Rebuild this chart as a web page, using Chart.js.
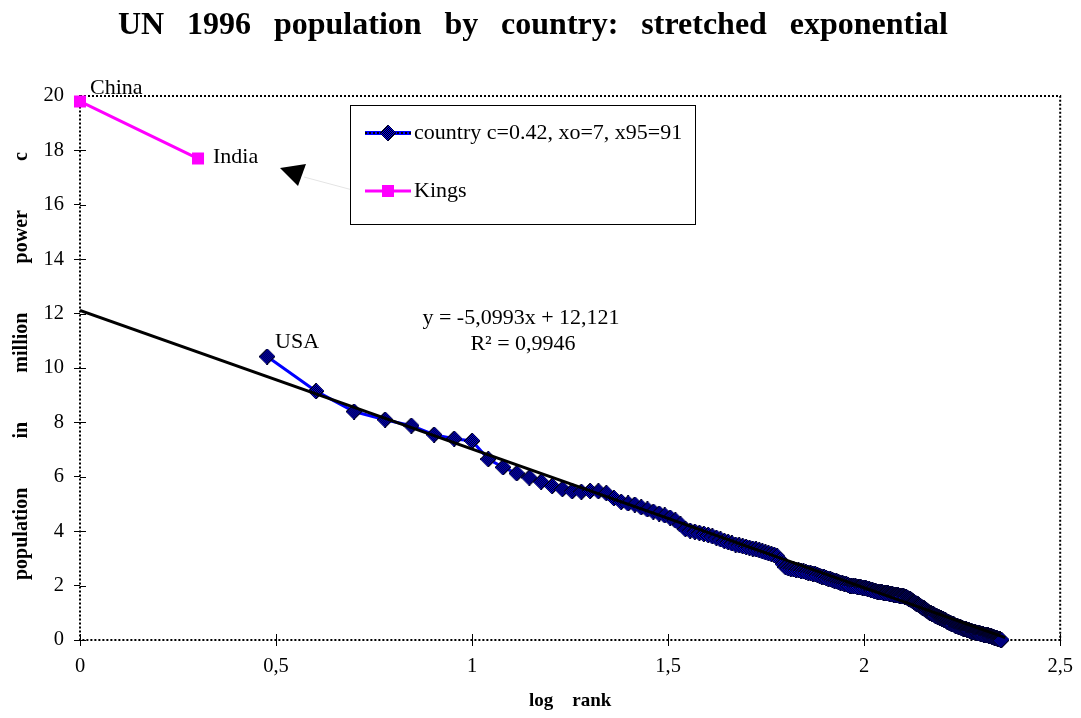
<!DOCTYPE html>
<html>
<head>
<meta charset="utf-8">
<title>UN 1996 population by country</title>
<script src="https://cdn.jsdelivr.net/npm/chart.js"></script>
<style>
  html, body { margin: 0; padding: 0; background: #fff; }
  #wrap { width: 1081px; height: 718px; }
</style>
</head>
<body>
<div id="wrap"><canvas id="chart" width="1081" height="718"></canvas></div>
<script>
// values (population in million, power c=0.42)
const firstRank = 3; // USA, China and India are in the Kings series
const countryValues = [
  10.42, 9.15, 8.40, 8.10, 7.88, 7.55, 7.40, 7.32, 6.65, 6.35, 6.13, 5.97, 5.82, 5.66,
  5.55, 5.47, 5.45, 5.48, 5.47, 5.40, 5.22, 5.08, 5.02, 4.98, 4.88, 4.80, 4.72, 4.65,
  4.58, 4.50, 4.40, 4.25, 4.08, 4.02, 3.98, 3.94, 3.90, 3.86, 3.81, 3.76, 3.70, 3.64,
  3.60, 3.55, 3.51, 3.48, 3.45, 3.42, 3.39, 3.36, 3.33, 3.30, 3.26, 3.22, 3.19, 3.16,
  3.13, 3.08, 2.95, 2.80, 2.68, 2.64,
  2.62, 2.60, 2.58, 2.56, 2.54, 2.52, 2.50, 2.48, 2.46, 2.44, 2.42, 2.39,
  2.36, 2.33, 2.31, 2.28, 2.26, 2.23, 2.21, 2.18, 2.16, 2.13, 2.11, 2.09, 2.07, 2.05, 2.02,
  2.00, 1.99, 1.98, 1.97, 1.96, 1.95, 1.94, 1.93, 1.92, 1.90, 1.88, 1.86, 1.84, 1.82, 1.80, 1.79, 1.78,
  1.77, 1.76, 1.75, 1.74, 1.73, 1.72, 1.71, 1.70, 1.69, 1.68, 1.67, 1.66, 1.65, 1.64, 1.63,
  1.62, 1.61, 1.60, 1.59, 1.57, 1.55,
  1.52, 1.49, 1.46, 1.43, 1.40, 1.37, 1.34, 1.31, 1.28, 1.25, 1.22, 1.19, 1.16, 1.13, 1.10, 1.06,
  1.03, 1.00, 0.98, 0.96, 0.94, 0.92, 0.90, 0.88, 0.86, 0.84, 0.82, 0.80, 0.78, 0.76, 0.74, 0.72, 0.70, 0.68,
  0.66, 0.64, 0.62, 0.60, 0.58, 0.57, 0.55, 0.53, 0.52, 0.50, 0.49, 0.47, 0.46, 0.44, 0.43, 0.42, 0.41, 0.40, 0.39, 0.37,
  0.36, 0.35, 0.34, 0.33, 0.32, 0.31, 0.30, 0.29, 0.28, 0.27, 0.26, 0.26, 0.25, 0.24, 0.23, 0.22, 0.22, 0.21, 0.20, 0.20, 0.19, 0.18, 0.18,
  0.17, 0.16, 0.15, 0.14, 0.13, 0.12, 0.11, 0.10, 0.09, 0.08, 0.07, 0.06, 0.05, 0.04, 0.03, 0.02, 0.01, 0.00
];
const kingsNames = ['China', 'India'];
const kingsLogRank = [0, 0.301];
const kingsValues = [19.8, 17.7];
const trendSlope = -5.0993;
const trendIntercept = 12.121;
const trendFrom = 0, trendTo = 2.36;
const xTicks = [0, 0.5, 1, 1.5, 2, 2.5];
const yTicks = [0, 2, 4, 6, 8, 10, 12, 14, 16, 18, 20];

const FONT = '"Liberation Serif", "Times New Roman", serif';
const canvas = document.getElementById('chart');
const ctx = canvas.getContext('2d');

// checkered blue/black diamond marker, drawn pixel by pixel (Excel pattern fill)
function checkerDiamond(size) {
  const c = document.createElement('canvas');
  c.width = size; c.height = size;
  const g = c.getContext('2d');
  const h = size / 2;
  for (let i = 0; i < size; i++) {
    for (let j = 0; j < size; j++) {
      const d = Math.abs(i + 0.5 - h) + Math.abs(j + 0.5 - h);
      if (d > h) continue;
      g.fillStyle = d > h - 1 ? '#000033' : ((i + j) % 2 ? '#0000ff' : '#000000');
      g.fillRect(i, j, 1, 1);
    }
  }
  return c;
}
const diamondImg = checkerDiamond(16);

const countryPoints = countryValues.map((v, i) => ({ x: Math.log10(firstRank + i), y: v }));
const kingsPoints = kingsValues.map((v, i) => ({ x: kingsLogRank[i], y: v }));
const trendPoints = [trendFrom, trendTo].map(x => ({ x: x, y: trendSlope * x + trendIntercept }));

// spread words evenly over a given length (Excel's wide word gaps)
function spreadWords(c, words, x0, length) {
  const widths = words.map(w => c.measureText(w).width);
  const gap = (length - widths.reduce((s, w) => s + w, 0)) / (words.length - 1);
  let x = x0;
  words.forEach((w, i) => { c.fillText(w, x, 0); x += widths[i] + gap; });
}

const extras = {
  id: 'extras',
  beforeDatasetsDraw(chart) {
    const a = chart.chartArea;
    const c = chart.ctx;
    c.save();
    // dotted frame
    c.strokeStyle = '#000';
    c.lineWidth = 2;
    c.setLineDash([2, 2]);
    c.strokeRect(a.left, a.top, a.right - a.left, a.bottom - a.top);
    c.setLineDash([]);
    // inner halves of the tick marks
    c.lineWidth = 1;
    const sx = chart.scales.x, sy = chart.scales.y;
    c.beginPath();
    yTicks.forEach(v => { const y = Math.round(sy.getPixelForValue(v)) + 0.5; c.moveTo(a.left, y); c.lineTo(a.left + 6, y); });
    xTicks.forEach(v => { const x = Math.round(sx.getPixelForValue(v)) + 0.5; c.moveTo(x, a.bottom); c.lineTo(x, a.bottom - 6); });
    c.stroke();
    c.restore();
  },
  afterDatasetsDraw(chart) {
    const c = chart.ctx;
    c.save();
    c.fillStyle = '#000';
    c.textBaseline = 'middle';
    c.textAlign = 'left';

    // title
    c.font = 'bold 32px ' + FONT;
    c.save();
    c.translate(0, 26);
    spreadWords(c, ['UN', '1996', 'population', 'by', 'country:', 'stretched', 'exponential'], 118, 830);
    c.restore();

    // y axis title, rotated
    c.font = 'bold 20px ' + FONT;
    c.save();
    c.translate(22, 580);
    c.rotate(-Math.PI / 2);
    spreadWords(c, ['population', 'in', 'million', 'power', 'c'], 0, 428);
    c.restore();

    // point labels
    c.font = '22px ' + FONT;
    const km = chart.getDatasetMeta(1).data;
    c.fillText(kingsNames[0], km[0].x + 10, km[0].y - 13);
    c.fillText(kingsNames[1], km[1].x + 15, km[1].y - 1);
    const cm = chart.getDatasetMeta(0).data;
    c.fillText('USA', cm[0].x + 8, cm[0].y - 14);

    // regression text
    c.textAlign = 'center';
    c.fillText('y = -5,0993x + 12,121', 521, 318);
    c.fillText('R\u00B2 = 0,9946', 523, 344);

    // leftover arrow
    c.strokeStyle = '#e4e4e4';
    c.lineWidth = 1;
    c.beginPath(); c.moveTo(304, 177); c.lineTo(360, 192); c.stroke();
    c.beginPath();
    c.moveTo(280, 168); c.lineTo(306, 164); c.lineTo(298, 186); c.closePath();
    c.fill();

    // legend box
    c.fillStyle = '#fff';
    c.fillRect(350, 105, 345, 119);
    c.strokeStyle = '#000';
    c.strokeRect(350.5, 105.5, 345, 119);
    c.textAlign = 'left';
    c.font = '22px ' + FONT;
    const ds = chart.data.datasets;
    // row 1: blue line with black dots, checkered diamond
    c.strokeStyle = '#0000ff';
    c.lineWidth = 4;
    c.beginPath(); c.moveTo(365, 133); c.lineTo(411, 133); c.stroke();
    c.strokeStyle = '#000';
    c.lineWidth = 2;
    c.setLineDash([2, 2]);
    c.beginPath(); c.moveTo(365, 133); c.lineTo(411, 133); c.stroke();
    c.setLineDash([]);
    c.drawImage(diamondImg, 380, 125);
    c.fillStyle = '#000';
    c.fillText(ds[0].label, 414, 133);
    // row 2
    c.strokeStyle = '#ff00ff';
    c.lineWidth = 3;
    c.beginPath(); c.moveTo(365, 191); c.lineTo(411, 191); c.stroke();
    c.fillStyle = '#ff00ff';
    c.fillRect(382, 185, 12, 12);
    c.fillStyle = '#000';
    c.fillText(ds[1].label, 414, 191);
    c.restore();
  }
};

const tickFont = { family: FONT, size: 20.5 };
const titleFont = { family: FONT, size: 19, weight: 'bold' };

new Chart(ctx, {
  type: 'scatter',
  data: {
    datasets: [
      {
        label: 'country c=0.42, xo=7, x95=91',
        data: countryPoints,
        showLine: true,
        borderColor: '#0000ff',
        borderWidth: 3,
        pointStyle: diamondImg,
        pointRadius: 8,
        clip: 10,
        order: 2
      },
      {
        label: 'Kings',
        data: kingsPoints,
        showLine: true,
        borderColor: '#ff00ff',
        borderWidth: 3,
        pointStyle: 'rect',
        pointRadius: 8.5,
        pointBackgroundColor: '#ff00ff',
        pointBorderWidth: 0,
        clip: 10,
        order: 1
      },
      {
        label: 'trend',
        data: trendPoints,
        showLine: true,
        borderColor: '#000',
        borderWidth: 3,
        pointRadius: 0,
        order: 0
      }
    ]
  },
  options: {
    responsive: false,
    animation: false,
    layout: { padding: { top: 96, right: 20, left: 0, bottom: 0 } },
    plugins: {
      legend: { display: false },
      tooltip: { enabled: false }
    },
    scales: {
      x: {
        type: 'linear',
        min: 0,
        max: 2.5,
        afterBuildTicks: s => { s.ticks = xTicks.map(v => ({ value: v })); },
        afterFit: s => { s.height = 78; },
        ticks: {
          callback: v => String(v).replace('.', ','),
          font: tickFont, color: '#000', padding: 8, maxRotation: 0, autoSkip: false
        },
        grid: { drawOnChartArea: false, tickLength: 6, color: '#000' },
        border: { display: false },
        title: { display: true, text: 'log    rank', font: titleFont, color: '#000', padding: { top: 0, bottom: 6 } }
      },
      y: {
        min: 0,
        max: 20,
        afterBuildTicks: s => { s.ticks = yTicks.map(v => ({ value: v })); },
        afterFit: s => { s.width = 80; },
        ticks: { font: tickFont, color: '#000', padding: 10 },
        grid: { drawOnChartArea: false, tickLength: 6, color: '#000' },
        border: { display: false }
      }
    }
  },
  plugins: [extras]
});
</script>
</body>
</html>
